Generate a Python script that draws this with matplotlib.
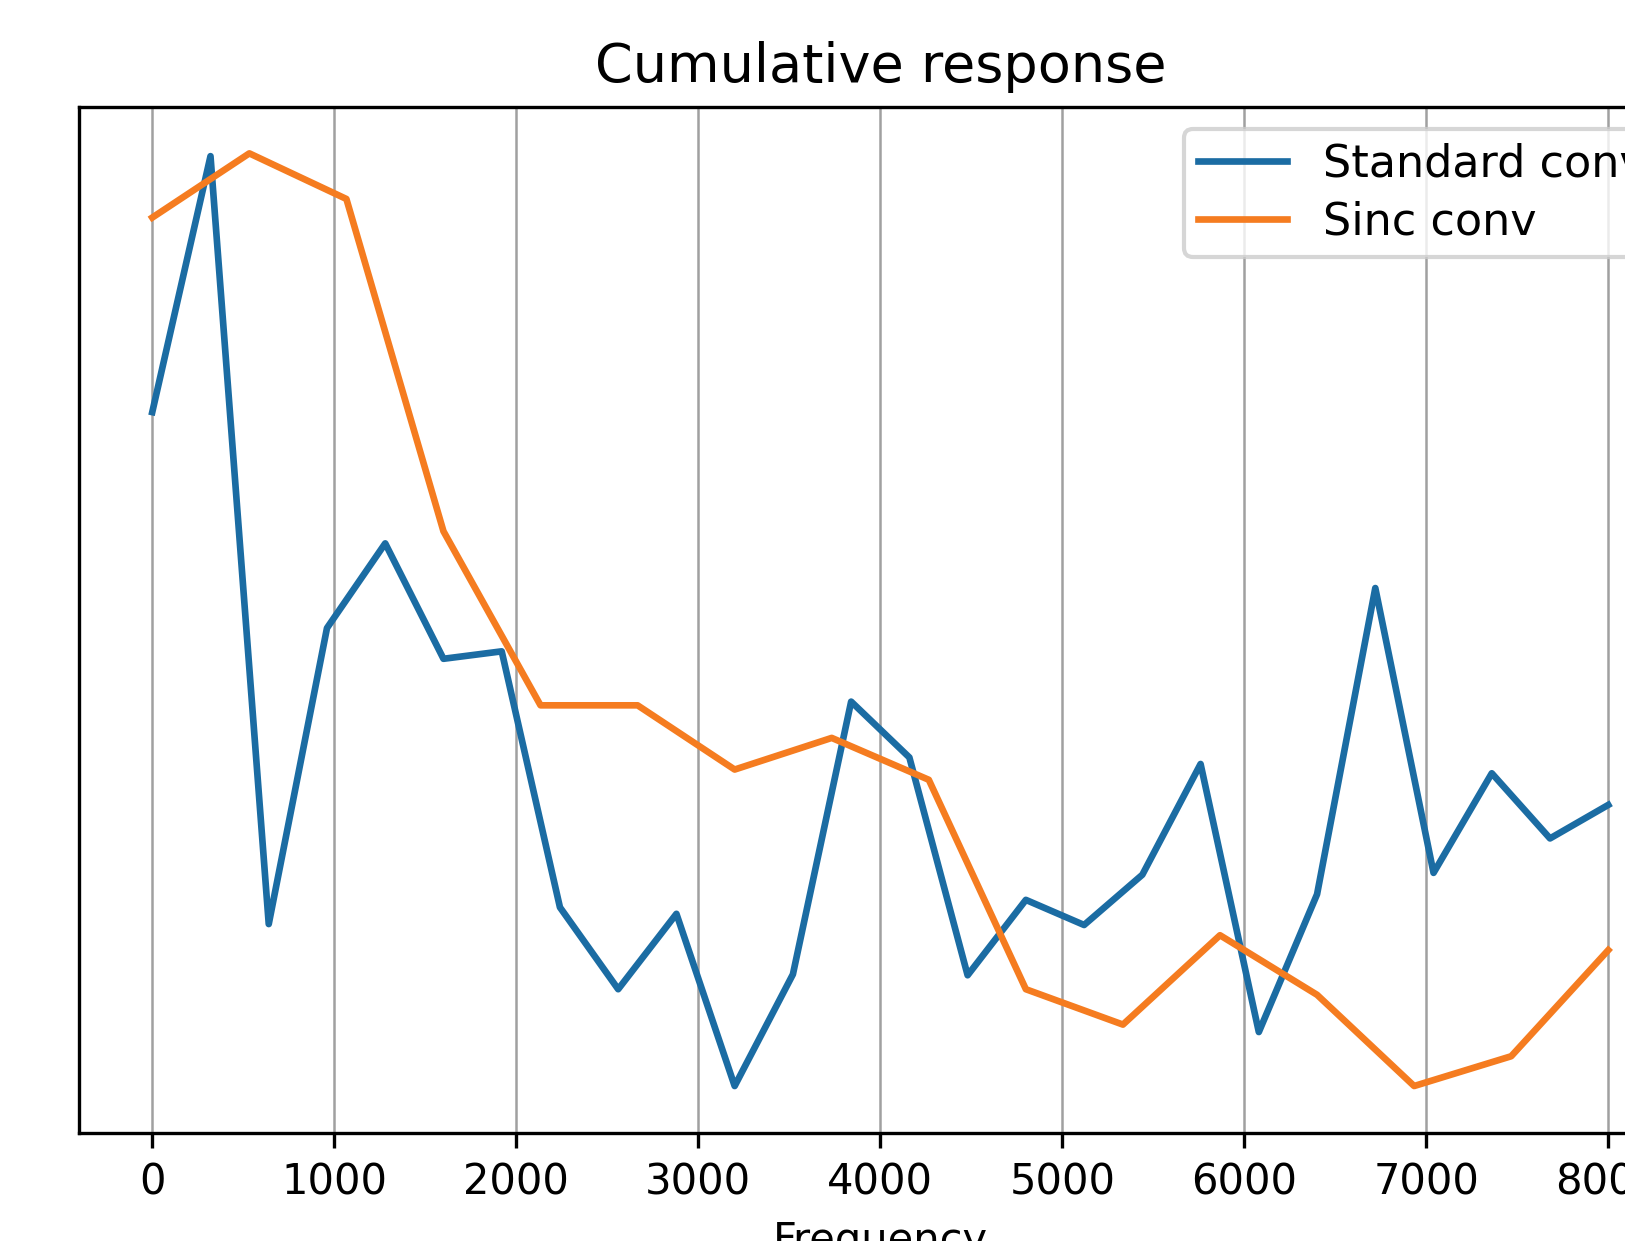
import numpy as np
from matplotlib import pyplot as plt

# Frequency bins of the two filter banks (Hz)
freq_standard = np.linspace(0, 8000, 26)
freq_sinc = np.linspace(0, 8000, 16)

# Cumulative response (arbitrary units)
resp_standard = [0.728, 1.003, 0.178, 0.496, 0.587, 0.463, 0.471, 0.196, 0.108,
                 0.189, 0.004, 0.124, 0.417, 0.357, 0.123, 0.204, 0.177, 0.231,
                 0.350, 0.062, 0.210, 0.539, 0.233, 0.340, 0.270, 0.306]
resp_sinc = [0.937, 1.006, 0.957, 0.600, 0.413, 0.413, 0.344, 0.378, 0.333,
             0.108, 0.070, 0.166, 0.102, 0.004, 0.036, 0.150]

labels = ["Standard conv", "Sinc conv"]


fig = plt.figure(figsize=(1625 / 300, 1241 / 300), dpi=300)
# axes runs past the right edge of the figure, as in the cropped original
ax = fig.add_axes([0.0489, 0.0873, 0.9856, 0.8267])

ax.plot(freq_standard, resp_standard, label=labels[0], lw=1.6, color="#1b6ca3")
ax.plot(freq_sinc, resp_sinc, label=labels[1], lw=1.6, color="#f57c20")

ax.set_title("Cumulative response", fontsize=13)
ax.set_xlabel("Frequency")
ax.set_yticks([])
ax.grid(axis="x", color="#a0a0a0", lw=0.6)
ax.legend(loc="upper right", fontsize=10.7, labelspacing=0.34, borderpad=0.3)

fig.savefig("out.png", dpi=300)
plt.close()
